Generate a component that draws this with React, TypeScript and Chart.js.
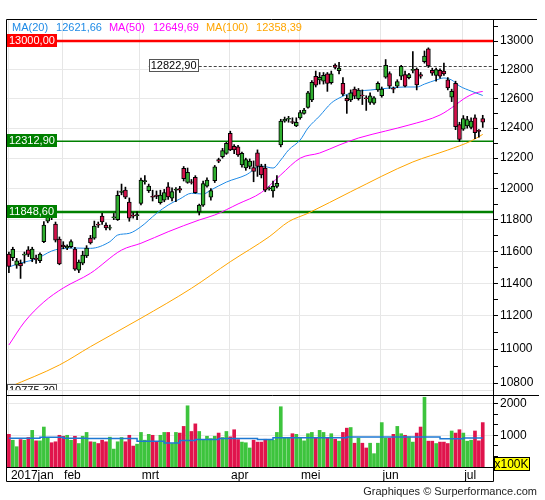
import React, { useEffect, useRef } from 'react';
import { Chart, registerables } from 'chart.js';

Chart.register(...registerables);

const FONT = '"Liberation Sans", Arial, sans-serif';

// ---- Daily OHLC (index 0 = first trading day shown) ----
const opens = [
  11582, 11559, 11513, 11524, 11575, 11608, 11551, 11555, 11540, 11660,
  11790, 11830, 11772, 11677, 11638, 11622, 11628, 11614, 11482, 11525,
  11570, 11683, 11683, 11772, 11823, 11766, 11745, 11812, 11800, 11975,
  11991, 11913, 11830, 11825, 11905, 12045, 11987, 11950, 11958, 11910,
  11925, 12012, 11938, 11990, 12000, 12133, 12040, 12045, 12074, 11850,
  11893, 12017, 11945, 12052, 12190, 12210, 12232, 12365, 12278, 12276,
  12155, 12135, 12145, 12138, 12235, 12146, 12135, 12000, 11985, 12015,
  12288, 12448, 12460, 12445, 12415, 12470, 12500, 12541, 12592, 12753,
  12728, 12720, 12770, 12710, 12832, 12793, 12705, 12602, 12592, 12665,
  12600, 12625, 12605, 12575, 12570, 12660, 12620, 12748, 12773, 12670,
  12685, 12755, 12765, 12745, 12795, 12803, 12765, 12855, 12945, 12795,
  12760, 12795, 12790, 12730, 12610, 12705, 12425, 12393, 12415, 12405,
  12470, 12385, 12465,
];
const highs = [
  11595, 11625, 11555, 11545, 11595, 11629, 11625, 11576, 11590, 11787,
  11850, 11860, 11785, 11690, 11660, 11640, 11672, 11625, 11545, 11600,
  11635, 11700, 11791, 11785, 11840, 11780, 11765, 11840, 11985, 12030,
  12010, 11940, 11845, 11850, 12069, 12085, 12030, 11990, 11985, 11990,
  11995, 12040, 12005, 12007, 12015, 12145, 12135, 12060, 12085, 11900,
  12050, 12070, 12000, 12152, 12200, 12265, 12305, 12380, 12290, 12285,
  12240, 12200, 12195, 12182, 12255, 12160, 12160, 12012, 12050, 12085,
  12460, 12475, 12480, 12470, 12470, 12520, 12535, 12650, 12725, 12790,
  12780, 12780, 12780, 12790, 12840, 12850, 12745, 12625, 12660, 12680,
  12670, 12660, 12620, 12640, 12615, 12715, 12680, 12870, 12785, 12680,
  12730, 12830, 12790, 12775, 12925, 12812, 12780, 12930, 12952, 12810,
  12810, 12805, 12845, 12745, 12665, 12720, 12440, 12485, 12480, 12470,
  12490, 12390, 12487,
];
const lows = [
  11465, 11541, 11493, 11430, 11525, 11566, 11534, 11524, 11528, 11653,
  11780, 11800, 11658, 11515, 11615, 11610, 11620, 11480, 11466, 11515,
  11560, 11645, 11675, 11750, 11770, 11735, 11735, 11800, 11795, 11960,
  11935, 11790, 11810, 11800, 11895, 12030, 11975, 11920, 11935, 11900,
  11915, 11930, 11920, 11915, 11975, 12050, 12035, 12030, 11970, 11830,
  11885, 12010, 11925, 12040, 12170, 12200, 12225, 12250, 12230, 12212,
  12140, 12120, 12130, 12045, 12080, 12070, 11980, 11990, 11945, 12005,
  12275, 12440, 12440, 12430, 12410, 12460, 12495, 12535, 12580, 12680,
  12700, 12700, 12650, 12700, 12805, 12770, 12620, 12500, 12580, 12600,
  12590, 12560, 12520, 12560, 12560, 12650, 12610, 12740, 12670, 12640,
  12675, 12730, 12680, 12735, 12777, 12660, 12740, 12845, 12815, 12760,
  12720, 12740, 12760, 12660, 12580, 12390, 12310, 12385, 12400, 12395,
  12330, 12340, 12405,
];
const closes = [
  11505, 11612, 11540, 11507, 11582, 11580, 11614, 11548, 11582, 11766,
  11815, 11812, 11670, 11520, 11628, 11630, 11660, 11488, 11532, 11576,
  11620, 11652, 11759, 11765, 11785, 11747, 11750, 11818, 11957, 11985,
  11945, 11810, 11822, 11832, 12056, 12052, 12017, 11945, 11950, 11958,
  11975, 11946, 11981, 11996, 11990, 12066, 12106, 12040, 11974, 11893,
  12033, 12056, 11987, 12143, 12180, 12250, 12298, 12254, 12255, 12222,
  12232, 12190, 12180, 12112, 12146, 12090, 11990, 12006, 12015, 12035,
  12448, 12460, 12466, 12438, 12440, 12505, 12523, 12640, 12712, 12692,
  12746, 12760, 12705, 12770, 12815, 12810, 12630, 12585, 12640, 12617,
  12658, 12620, 12600, 12620, 12605, 12705, 12665, 12830, 12685, 12665,
  12718, 12822, 12685, 12765, 12802, 12695, 12755, 12895, 12825, 12775,
  12800, 12755, 12770, 12673, 12650, 12410, 12325, 12465, 12458, 12448,
  12370, 12378, 12440,
];
// volume in units of 100K
const volumes = [
  1030, 845, 640, 865, 845, 930, 1155, 825, 825, 1260,
  930, 765, 795, 1000, 970, 1000, 845, 970, 740, 970,
  1090, 795, 785, 740, 845, 795, 940, 565, 795, 930,
  795, 1000, 660, 720, 1090, 845, 1030, 1000, 785, 1000,
  1090, 1090, 740, 1090, 1070, 1280, 1930, 1120, 1360, 1120,
  865, 970, 895, 970, 1070, 930, 1120, 950, 1175, 865,
  785, 765, 600, 845, 785, 785, 875, 845, 845, 1090,
  1900, 930, 930, 1050, 1030, 910, 825, 1050, 1090, 930,
  1155, 1090, 930, 1050, 875, 815, 1090, 1225, 1245, 750,
  910, 750, 600, 750, 420, 750, 1400, 910, 910, 1030,
  1280, 1050, 1000, 950, 785, 1070, 1260, 2200, 815, 815,
  740, 785, 785, 740, 1135, 1070, 1175, 1070, 815, 845,
  1135, 825, 1400,
];

// ---- Moving averages (day index, value) ----
const ma20Idx = [0, 3, 7, 11, 13, 17, 21, 26, 28, 31, 34, 38, 41, 44, 47, 50, 52, 56, 61, 65, 68, 70, 72, 75, 77, 80, 83, 85, 88, 90, 93, 98, 102, 105, 107, 110, 112, 114, 116, 119, 122];
const ma20Val = [11501, 11526, 11551, 11601, 11614, 11620, 11618, 11660, 11702, 11713, 11755, 11840, 11894, 11933, 11970, 11965, 11991, 12043, 12089, 12148, 12135, 12188, 12254, 12321, 12401, 12482, 12570, 12604, 12639, 12652, 12659, 12673, 12680, 12680, 12700, 12728, 12742, 12728, 12687, 12652, 12621.66];
const ma50Idx = [0, 4, 9, 14, 21, 29, 34, 41, 49, 53, 59, 65, 70, 75, 80, 85, 90, 97, 103, 111, 115, 117, 120, 122];
const ma50Val = [11025, 11163, 11285, 11371, 11462, 11607, 11650, 11723, 11798, 11830, 11901, 11975, 12090, 12200, 12234, 12287, 12334, 12381, 12421, 12489, 12557, 12597, 12638, 12649.69];
const ma100Idx = [0, 13, 21, 34, 47, 57, 67, 72, 77, 88, 104, 113, 119, 122];
const ma100Val = [10775.3, 10906, 11015, 11186, 11369, 11534, 11691, 11787, 11841, 11980, 12175, 12254, 12314, 12358.39];
const volMaIdx = [0, 8, 14, 20, 33, 40, 44, 48, 54, 64, 68, 87, 111, 117, 122];
const volMaVal = [905, 937, 905, 895, 815, 760, 836, 870, 900, 870, 925, 945, 890, 915, 915];

// ---- Axes / labels ----
const monthStarts = [0, 14, 34, 57, 75, 96, 117];
const monthLabels = ['2017jan', 'feb', 'mrt', 'apr', 'mei', 'jun', 'jul'];
const priceTicks = [10800, 10900, 11000, 11100, 11200, 11300, 11400, 11500, 11600, 11700, 11800, 11900, 12000, 12100, 12200, 12300, 12400, 12500, 12600, 12700, 12800, 12900, 13000, 13100];
const volumeTicks = [333.33, 666.67, 1000, 1333.33, 1666.67, 2000];
const volumeLabelled = [1000, 2000];

// ---- Reference levels ----
const ceilingLevel = 13000;
const resistanceLevel = 12822.9;
const resistanceFromDay = 36;
const supportLevels = [12312.9, 11848.6];

const fmt = (v: number) => v.toFixed(2).replace('.', ',');

const C_UP = '#2fae2f';
const C_DOWN = '#d3114a';
const V_UP = '#3dc43d';
const V_DOWN = '#e0144c';
const C_MA20 = '#1e8ae6';
const C_MA50 = '#ff00ff';
const C_MA100 = '#ffa500';

function hl(ctx: any, x1: number, x2: number, y: number) {
  ctx.beginPath();
  ctx.moveTo(x1, y);
  ctx.lineTo(x2, y);
  ctx.stroke();
}
function vl(ctx: any, x: number, y1: number, y2: number) {
  ctx.beginPath();
  ctx.moveTo(x, y1);
  ctx.lineTo(x, y2);
  ctx.stroke();
}
function labelBox(ctx: any, text: string, x: number, yc: number, fill: string, color: string, stroke: string | null) {
  ctx.font = `11px ${FONT}`;
  const w = Math.ceil(ctx.measureText(text).width) + 4;
  const top = Math.round(yc) - 7;
  ctx.fillStyle = fill;
  ctx.fillRect(x, top, w, 13);
  if (stroke) {
    ctx.strokeStyle = stroke;
    ctx.lineWidth = 1;
    ctx.strokeRect(Math.round(x) + 0.5, top + 0.5, w - 1, 12);
  }
  ctx.fillStyle = color;
  ctx.textAlign = 'left';
  ctx.textBaseline = 'middle';
  ctx.fillText(text, x + 2, top + 7);
}

const overlay = {
  id: 'overlay',
  beforeDatasetsDraw(chart: any) {
    const { ctx, chartArea: a, scales } = chart;
    const y = scales.y;
    const x = scales.x;
    ctx.save();
    ctx.strokeStyle = '#e4e4e4';
    ctx.lineWidth = 1;
    hl(ctx, a.left, a.right, y.bottom - 4.5);
    ctx.setLineDash([3, 2]);
    ctx.strokeStyle = '#444';
    hl(ctx, x.getPixelForValue(resistanceFromDay), a.right, Math.round(y.getPixelForValue(resistanceLevel)) + 0.5);
    ctx.setLineDash([]);
    supportLevels.forEach((lv, k) => {
      ctx.strokeStyle = '#008000';
      ctx.lineWidth = k === 0 ? 1.5 : 2.5;
      hl(ctx, a.left, a.right, y.getPixelForValue(lv));
    });
    ctx.strokeStyle = '#ff0000';
    ctx.lineWidth = 2.5;
    hl(ctx, a.left, a.right, y.getPixelForValue(ceilingLevel));
    ctx.restore();
  },
  afterDatasetsDraw(chart: any) {
    const { ctx, chartArea: a, scales } = chart;
    const y = scales.y;
    const x = scales.x;
    ctx.save();
    labelBox(ctx, fmt(ceilingLevel), a.left, y.getPixelForValue(ceilingLevel), '#ff0000', '#fff', null);
    labelBox(ctx, fmt(resistanceLevel), x.getPixelForValue(resistanceFromDay), y.getPixelForValue(resistanceLevel), '#fff', '#000', '#555');
    supportLevels.forEach((lv) => labelBox(ctx, fmt(lv), a.left, y.getPixelForValue(lv), '#008000', '#fff', null));
    const lowest = Math.min(...ma100Val);
    ctx.beginPath();
    ctx.rect(a.left, y.top, a.right - a.left, y.bottom - 5 - y.top);
    ctx.clip();
    labelBox(ctx, fmt(lowest), a.left, y.getPixelForValue(lowest) + 4, '#fff', '#000', '#555');
    ctx.restore();
  },
  afterDraw(chart: any) {
    const { ctx, chartArea: a, scales } = chart;
    const yv = scales.yv;
    ctx.save();
    ctx.strokeStyle = '#000';
    ctx.lineWidth = 1;
    const L = a.left - 0.5;
    const R = a.right + 0.5;
    const T = a.top - 0.5;
    const B = a.bottom + 14.5;
    hl(ctx, L, 537, T);
    vl(ctx, L, T, B);
    hl(ctx, L, R, B);
    vl(ctx, R, T, B);
    hl(ctx, L, 539, Math.round(yv.top) + 0.5);

    // legend
    ctx.font = `11px ${FONT}`;
    ctx.textBaseline = 'middle';
    ctx.textAlign = 'left';
    const items: [string, number, string][] = [
      ['MA(20)', ma20Val[ma20Val.length - 1], C_MA20],
      ['MA(50)', ma50Val[ma50Val.length - 1], C_MA50],
      ['MA(100)', ma100Val[ma100Val.length - 1], C_MA100],
    ];
    let lx = a.left + 5;
    const ly = a.top + 8;
    items.forEach(([lab, v, col]) => {
      ctx.fillStyle = col;
      ctx.fillText(lab, lx, ly);
      lx += ctx.measureText(lab).width + 8;
      const t = fmt(v);
      ctx.fillText(t, lx, ly);
      lx += ctx.measureText(t).width + 7;
    });

    // unit box
    ctx.font = `12px ${FONT}`;
    const ut = 'x100K';
    const uw = Math.ceil(ctx.measureText(ut).width) + 1;
    ctx.fillStyle = '#ffff00';
    ctx.fillRect(a.right + 1, a.bottom - 10, uw, 14);
    ctx.strokeStyle = '#000';
    ctx.strokeRect(a.right + 1.5, a.bottom - 9.5, uw - 1, 13);
    ctx.fillStyle = '#000';
    ctx.fillText(ut, a.right + 1.5, a.bottom - 2.5);

    // credit
    ctx.font = `11px ${FONT}`;
    ctx.textAlign = 'right';
    ctx.fillStyle = '#222';
    ctx.fillText('Graphiques \u00a9 Surperformance.com', 537, 492);
    ctx.restore();
  },
};

export default function App() {
  const ref = useRef<HTMLCanvasElement>(null);
  useEffect(() => {
    const days = opens.map((_, i) => i);
    const isUp = (i: number) => closes[i] >= opens[i];
    const chart = new Chart(ref.current as HTMLCanvasElement, {
      type: 'bar',
      data: {
        datasets: [
          {
            type: 'line',
            label: 'MA100',
            data: ma100Idx.map((d, k) => ({ x: d, y: ma100Val[k] })),
            yAxisID: 'y',
            borderColor: C_MA100,
            borderWidth: 1,
            pointRadius: 0,
            cubicInterpolationMode: 'monotone',
            order: 6,
          },
          {
            type: 'line',
            label: 'MA50',
            data: ma50Idx.map((d, k) => ({ x: d, y: ma50Val[k] })),
            yAxisID: 'y',
            borderColor: C_MA50,
            borderWidth: 1,
            pointRadius: 0,
            cubicInterpolationMode: 'monotone',
            order: 5,
          },
          {
            type: 'line',
            label: 'MA20',
            data: ma20Idx.map((d, k) => ({ x: d, y: ma20Val[k] })),
            yAxisID: 'y',
            borderColor: C_MA20,
            borderWidth: 1,
            pointRadius: 0,
            cubicInterpolationMode: 'monotone',
            order: 4,
          },
          {
            type: 'bar',
            label: 'wick',
            data: days.map((i) => ({ x: i, y: [lows[i], highs[i]] })),
            yAxisID: 'y',
            backgroundColor: '#000',
            borderWidth: 0,
            barThickness: 1,
            grouped: false,
            order: 3,
          },
          {
            type: 'bar',
            label: 'body',
            data: days.map((i) => ({ x: i, y: [opens[i], closes[i]] })),
            yAxisID: 'y',
            backgroundColor: days.map((i) => (isUp(i) ? C_UP : C_DOWN)),
            borderColor: '#000',
            borderWidth: 1,
            borderSkipped: false,
            barThickness: 4,
            grouped: false,
            order: 2,
          },
          {
            type: 'bar',
            label: 'volume',
            data: days.map((i) => ({ x: i, y: volumes[i] })),
            yAxisID: 'yv',
            backgroundColor: days.map((i) => (isUp(i) ? V_UP : V_DOWN)),
            borderWidth: 0,
            barThickness: 3,
            grouped: false,
            order: 1,
          },
          {
            type: 'line',
            label: 'volMA',
            data: volMaIdx.map((d, k) => ({ x: d, y: volMaVal[k] })),
            yAxisID: 'yv',
            stepped: true,
            borderColor: '#1e78d2',
            borderWidth: 1.5,
            pointRadius: 0,
            order: 0,
          },
        ] as any,
      },
      options: {
        responsive: false,
        animation: false,
        layout: { padding: { left: 7, top: 20, right: 0, bottom: 18 } },
        plugins: { legend: { display: false }, tooltip: { enabled: false } },
        scales: {
          x: {
            type: 'linear',
            position: 'bottom',
            offset: false,
            min: -0.49,
            max: 124.64,
            bounds: 'data',
            afterBuildTicks: (s: any) => {
              s.ticks = monthStarts.map((m) => ({ value: m === 0 ? 0 : m - 0.3 }));
            },
            afterFit: (s: any) => {
              s.height = 15;
            },
            ticks: {
              autoSkip: false,
              maxRotation: 0,
              minRotation: 0,
              align: 'start',
              labelOffset: 2,
              padding: 1,
              color: '#000',
              font: { family: FONT, size: 12 },
              callback: (_v: any, i: number) => monthLabels[i],
            },
            grid: { color: '#e6e6e6', drawTicks: false, lineWidth: 1, offset: false },
            border: { display: true, color: '#000', width: 1 },
          },
          y: {
            type: 'logarithmic',
            position: 'right',
            stack: 'main',
            stackWeight: 375,
            min: 10730,
            max: 13149,
            bounds: 'data',
            afterBuildTicks: (s: any) => {
              s.ticks = priceTicks.map((v) => ({ value: v }));
            },
            afterFit: (s: any) => {
              s.width = 52;
            },
            ticks: {
              autoSkip: false,
              padding: 2,
              color: '#000',
              font: { family: FONT, size: 12 },
              callback: (v: any) => (Number(v) % 200 === 0 ? String(v) : ''),
            },
            grid: {
              color: (c: any) => (c.tick && c.tick.value % 200 === 0 ? '#e8e8e8' : 'rgba(0,0,0,0)'),
              tickColor: '#000',
              tickLength: 5,
            },
            border: { display: true, color: '#000' },
          },
          yv: {
            type: 'linear',
            position: 'right',
            stack: 'main',
            stackWeight: 72,
            min: 0,
            max: 2270,
            bounds: 'data',
            afterBuildTicks: (s: any) => {
              s.ticks = volumeTicks.map((v) => ({ value: v }));
            },
            afterFit: (s: any) => {
              s.width = 52;
            },
            ticks: {
              autoSkip: false,
              padding: 2,
              color: '#000',
              font: { family: FONT, size: 12 },
              callback: (v: any) => (volumeLabelled.includes(Number(v)) ? String(v) : ''),
            },
            grid: {
              color: (c: any) => (c.tick && volumeLabelled.includes(c.tick.value) ? '#e8e8e8' : 'rgba(0,0,0,0)'),
              tickColor: '#000',
              tickLength: 5,
            },
            border: { display: true, color: '#000' },
          },
        },
      } as any,
      plugins: [overlay],
    });
    return () => chart.destroy();
  }, []);

  return (
    <div style={{ position: 'absolute', left: 0, top: 0, width: 545, height: 500, background: '#fff' }}>
      <canvas ref={ref} width={545} height={500} style={{ display: 'block', width: 545, height: 500 }} />
    </div>
  );
}
